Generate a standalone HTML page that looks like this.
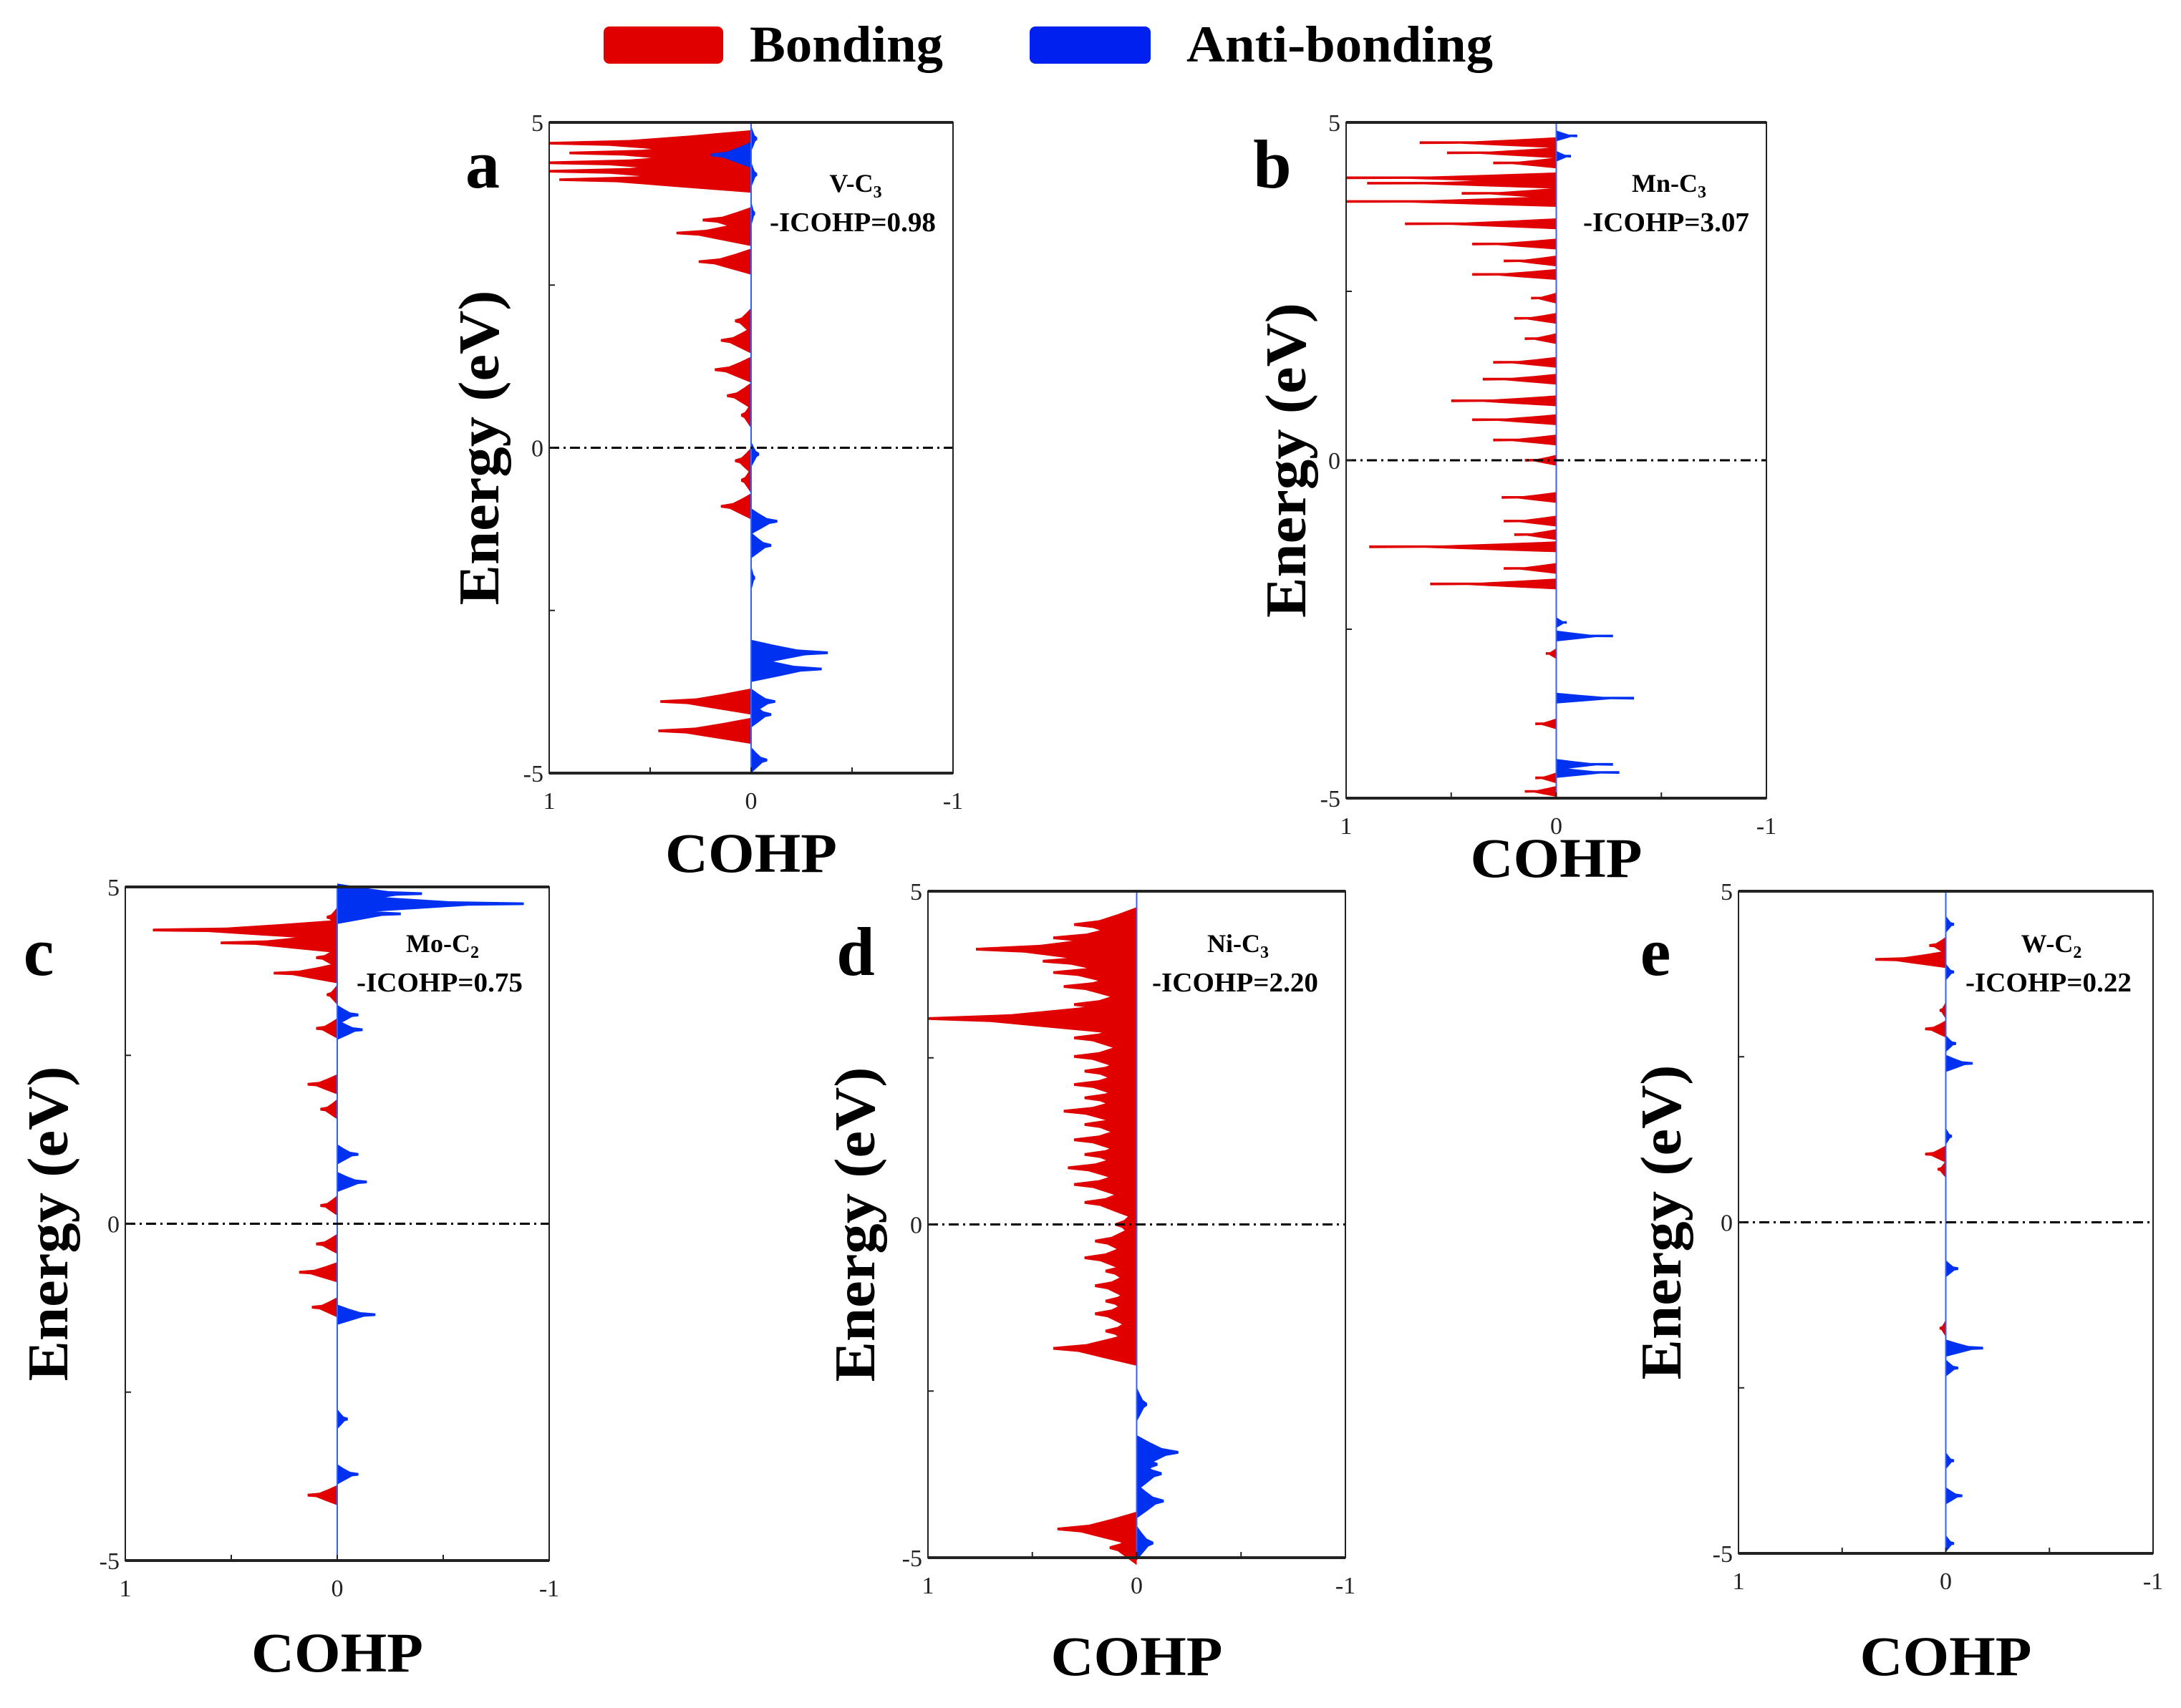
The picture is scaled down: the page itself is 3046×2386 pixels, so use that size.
<!DOCTYPE html>
<html><head><meta charset="utf-8"><style>
html,body{margin:0;padding:0;background:#fff}
svg{display:block}
</style></head><body>
<svg id="fig" xmlns="http://www.w3.org/2000/svg" width="3046" height="2386" viewBox="0 0 3046 2386" font-family="'Liberation Serif', serif">
<g>
<rect x="843" y="37" width="167" height="52" rx="8" fill="#e00000"/>
<text x="1047" y="86" font-size="72" font-weight="bold" textLength="270" lengthAdjust="spacingAndGlyphs">Bonding</text>
<rect x="1438" y="37" width="169" height="52" rx="8" fill="#0020f0"/>
<text x="1657" y="86" font-size="72" font-weight="bold" textLength="428" lengthAdjust="spacingAndGlyphs">Anti-bonding</text>
</g>
<g id="panels"></g>
</svg>
<script>
// Panel a: V-C3
const aBondE = [4.68,4.53,4.38,4.25,4.12,3.5,3.3,2.86,1.95,1.65,1.2,0.8,0.5,-0.2,-0.5,-0.9,-3.9,-4.35];
const aBondV = [1.0,0.9,1.0,1.0,0.95,0.24,0.37,0.26,0.08,0.15,0.18,0.12,0.05,0.08,0.05,0.15,0.45,0.46];
const aAntiE = [4.75,4.5,4.2,3.6,-0.1,-1.13,-1.5,-2.0,-3.15,-3.4,-3.9,-4.1,-4.8];
const aAntiV = [-0.03,0.2,-0.03,-0.02,-0.04,-0.13,-0.1,-0.02,-0.38,-0.35,-0.12,-0.1,-0.08];
// Panel b: Mn-C3
const bBondE = [4.7,4.55,4.4,4.18,4.1,3.95,3.83,3.5,3.2,2.95,2.75,2.4,2.1,1.8,1.45,1.2,0.88,0.6,0.3,0.0,-0.55,-0.9,-1.1,-1.28,-1.6,-1.83,-2.86,-3.9,-4.7,-4.9];
const bBondV = [0.65,0.52,0.3,1.0,0.9,0.45,1.0,0.72,0.4,0.25,0.4,0.12,0.2,0.15,0.3,0.35,0.5,0.4,0.3,0.15,0.26,0.25,0.2,0.89,0.25,0.6,0.05,0.1,0.1,0.15];
const bAntiE = [4.8,4.5,-2.4,-2.6,-3.52,-4.5,-4.62];
const bAntiV = [-0.1,-0.07,-0.05,-0.27,-0.37,-0.27,-0.3];
// Panel c: Mo-C2
const cBondE = [4.55,4.36,4.17,3.95,3.72,3.4,2.9,2.07,1.7,0.27,-0.3,-0.72,-1.24,-4.03];
const cBondV = [0.05,0.87,0.55,0.1,0.3,0.05,0.1,0.14,0.08,0.08,0.1,0.18,0.12,0.14];
const cAntiE = [4.9,4.75,4.6,3.1,2.88,1.03,0.62,-1.35,-2.9,-3.72];
const cAntiV = [-0.4,-0.88,-0.3,-0.1,-0.12,-0.1,-0.14,-0.18,-0.05,-0.1];
// Panel d: Ni-C3
const dBondE = [4.5,4.3,4.13,3.95,3.78,3.57,3.3,3.09,2.8,2.52,2.3,2.1,1.9,1.7,1.5,1.27,1.05,0.85,0.6,0.33,0.0,-0.25,-0.5,-0.7,-0.92,-1.15,-1.34,-1.6,-1.86,-4.57,-4.85];
const dBondV = [0.3,0.4,0.77,0.45,0.4,0.35,0.3,1.0,0.3,0.3,0.25,0.3,0.25,0.35,0.25,0.3,0.25,0.33,0.3,0.25,0.1,0.2,0.25,0.15,0.2,0.15,0.2,0.15,0.4,0.38,0.13];
const dAntiE = [-2.7,-3.42,-3.6,-3.74,-4.15,-4.78];
const dAntiV = [-0.05,-0.2,-0.1,-0.12,-0.13,-0.08];
// Panel e: W-C2
const eBondE = [4.18,3.97,3.2,2.92,1.03,0.8,-1.6];
const eBondV = [0.08,0.34,0.03,0.1,0.1,0.04,0.03];
const eAntiE = [4.5,3.78,2.7,2.4,1.3,-0.7,-1.9,-2.2,-3.6,-4.13,-4.85];
const eAntiV = [-0.04,-0.04,-0.05,-0.13,-0.03,-0.06,-0.18,-0.06,-0.04,-0.08,-0.04];

const panels = [
 {id:'a',x0:767,x1:1331,y0:171,y1:1080,w:0.2,bondE:aBondE,bondV:aBondV,antiE:aAntiE,antiV:aAntiV,
  letter:[674,262],ann:'V-C',sub:'3',icohp:'-ICOHP=0.98',annX:1195,annY:268,ylab:668,cohpY:1218},
 {id:'b',x0:1880,x1:2467,y0:171,y1:1115,w:0.08,bondE:bBondE,bondV:bBondV,antiE:bAntiE,antiV:bAntiV,
  letter:[1777,262],ann:'Mn-C',sub:'3',icohp:'-ICOHP=3.07',annX:2331,annY:268,ylab:1795,cohpY:1225},
 {id:'c',x0:175,x1:767,y0:1239,y1:2180,w:0.15,bondE:cBondE,bondV:cBondV,antiE:cAntiE,antiV:cAntiV,
  letter:[54,1362],ann:'Mo-C',sub:'2',icohp:'-ICOHP=0.75',annX:618,annY:1330,ylab:66,cohpY:2335},
 {id:'d',x0:1296,x1:1879,y0:1245,y1:2176,w:0.26,bondE:dBondE,bondV:dBondV,antiE:dAntiE,antiV:dAntiV,
  letter:[1195,1362],ann:'Ni-C',sub:'3',icohp:'-ICOHP=2.20',annX:1729,annY:1330,ylab:1193,cohpY:2340},
 {id:'e',x0:2428,x1:3007,y0:1245,y1:2170,w:0.13,bondE:eBondE,bondV:eBondV,antiE:eAntiE,antiV:eAntiV,
  letter:[2312,1362],ann:'W-C',sub:'2',icohp:'-ICOHP=0.22',annX:2865,annY:1330,ylab:2319,cohpY:2340}
];
const NS='http://www.w3.org/2000/svg';
const root=document.getElementById('panels');
function mk(tag,attrs,parent){const e=document.createElementNS(NS,tag);for(const k in attrs)e.setAttribute(k,attrs[k]);(parent||root).appendChild(e);return e;}

panels.forEach(p=>{
 const g=mk('g',{});
 
 
 const xs=v=>p.x0+(1-v)/2*(p.x1-p.x0);
 const ys=E=>p.y0+(5-E)/10*(p.y1-p.y0);
 const spike=(E,v,color,name)=>{
  const w=p.w, x0=xs(0);
  const pts=[[x0,ys(E+w)],[xs(v*0.3),ys(E+w*0.6)],[xs(v*0.6),ys(E+w*0.25)],[xs(v),ys(E+0.02)],[xs(v),ys(E-0.02)],[xs(v*0.7),ys(E-w*0.2)],[xs(v*0.4),ys(E-w*0.55)],[x0,ys(E-w)]];
  const el=mk('polygon',{points:pts.map(q=>q[0].toFixed(1)+','+q[1].toFixed(1)).join(' '),fill:color},g);
  
  
 };
 p.bondE.forEach((E,i)=>spike(E,p.bondV[i],'#e00000','bonding-peak'));
 p.antiE.forEach((E,i)=>spike(E,p.antiV[i],'#0030f0','antibonding-peak'));
 const zl=mk('line',{x1:xs(0),x2:xs(0),y1:p.y0,y2:p.y1,stroke:'#3060ff','stroke-width':2},g);
 
 
 const fl=mk('line',{x1:p.x0,x2:p.x1,y1:ys(0),y2:ys(0),stroke:'#000','stroke-width':3,'stroke-dasharray':'14,6,3,6'},g);
 
 
 const fr=mk('rect',{x:p.x0,y:p.y0,width:p.x1-p.x0,height:p.y1-p.y0,fill:'none',stroke:'#222','stroke-width':2},g);
 
 
 mk('line',{x1:p.x0,x2:p.x1,y1:p.y0,y2:p.y0,stroke:'#222','stroke-width':4},g);
 mk('line',{x1:p.x0,x2:p.x1,y1:p.y1,y2:p.y1,stroke:'#222','stroke-width':4},g);
 [1,0.5,0,-0.5,-1].forEach(v=>{mk('line',{x1:xs(v),x2:xs(v),y1:p.y1,y2:p.y1-8,stroke:'#222','stroke-width':2},g);});
 [5,2.5,0,-2.5,-5].forEach(E=>{mk('line',{x1:p.x0,x2:p.x0+8,y1:ys(E),y2:ys(E),stroke:'#222','stroke-width':2},g);});
 [['1',1],['0',0],['-1',-1]].forEach(([t,v])=>{
  const tx=mk('text',{x:xs(v),y:p.y1+50,'font-size':34,'text-anchor':'middle',fill:'#222'},g);
  tx.textContent=t;
  
  
 });
 [['5',5],['0',0],['-5',-5]].forEach(([t,E])=>{
  const tx=mk('text',{x:p.x0-8,y:ys(E)+12,'font-size':34,'text-anchor':'end',fill:'#222'},g);
  tx.textContent=t;
  
  
 });
 const yl=mk('text',{x:0,y:0,'font-size':80,'font-weight':'bold','text-anchor':'middle',transform:`translate(${p.ylab+28},${(p.y0+p.y1)/2}) rotate(-90)`,textLength:440,lengthAdjust:'spacingAndGlyphs'},g);
 yl.textContent='Energy (eV)';
 
 
 const xl=mk('text',{x:(p.x0+p.x1)/2,y:p.cohpY,'font-size':78,'font-weight':'bold','text-anchor':'middle',textLength:240,lengthAdjust:'spacingAndGlyphs'},g);
 xl.textContent='COHP';
 
 
 const lt=mk('text',{x:p.letter[0],y:p.letter[1],'font-size':96,'font-weight':'bold','text-anchor':'middle'},g);
 lt.textContent=p.id;
 
 
 const an=mk('text',{x:p.annX,y:p.annY,'font-size':36,'font-weight':'bold','text-anchor':'middle'},g);
 an.innerHTML=p.ann+'<tspan font-size="24" dy="8">'+p.sub+'</tspan>';
 
 
 const ic=mk('text',{x:p.annX-4,y:p.annY+55,'font-size':38,'font-weight':'bold','text-anchor':'middle',textLength:232,lengthAdjust:'spacingAndGlyphs'},g);
 ic.textContent=p.icohp;
 
 
});
</script>
</body></html>
